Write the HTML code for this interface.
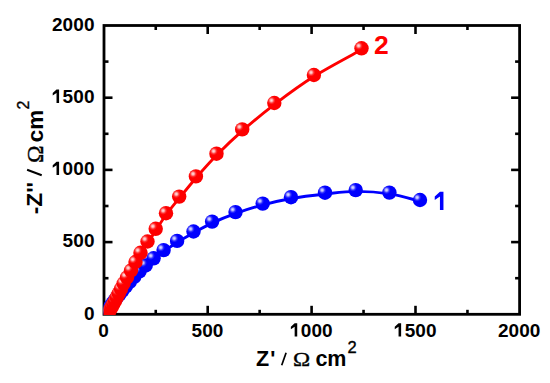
<!DOCTYPE html>
<html><head><meta charset="utf-8"><style>
html,body{margin:0;padding:0;background:#fff;}
svg{display:block;}
text{font-family:"Liberation Sans",sans-serif;}
.se{font-family:"Liberation Serif",serif;}
</style></head><body>
<svg width="550" height="383" viewBox="0 0 550 383">
<defs>
<radialGradient id="gr" cx="0.3" cy="0.32" r="0.6">
<stop offset="0" stop-color="#ffe4e4"/><stop offset="0.14" stop-color="#ffb4b4"/><stop offset="0.32" stop-color="#ff3030"/><stop offset="0.48" stop-color="#ff0000"/><stop offset="1" stop-color="#fc0000"/>
</radialGradient>
<radialGradient id="gb" cx="0.3" cy="0.32" r="0.6">
<stop offset="0" stop-color="#e4e4ff"/><stop offset="0.14" stop-color="#b4b4ff"/><stop offset="0.32" stop-color="#3030ff"/><stop offset="0.48" stop-color="#0000ff"/><stop offset="1" stop-color="#0000fc"/>
</radialGradient>
<clipPath id="cp"><rect x="103.8" y="25.5" width="415.6" height="289.40000000000003"/></clipPath>
</defs>
<rect x="104" y="25.5" width="415.6" height="288.8" fill="none" stroke="#000" stroke-width="2.8"/>
<g stroke="#000" stroke-width="2.6">
<line x1="155.75" y1="314.30" x2="155.75" y2="309.80"/>
<line x1="155.75" y1="25.50" x2="155.75" y2="30.00"/>
<line x1="104.00" y1="278.20" x2="108.50" y2="278.20"/>
<line x1="519.60" y1="278.20" x2="515.10" y2="278.20"/>
<line x1="207.70" y1="314.30" x2="207.70" y2="305.80"/>
<line x1="207.70" y1="25.50" x2="207.70" y2="34.00"/>
<line x1="104.00" y1="242.10" x2="112.50" y2="242.10"/>
<line x1="519.60" y1="242.10" x2="511.10" y2="242.10"/>
<line x1="259.65" y1="314.30" x2="259.65" y2="309.80"/>
<line x1="259.65" y1="25.50" x2="259.65" y2="30.00"/>
<line x1="104.00" y1="206.00" x2="108.50" y2="206.00"/>
<line x1="519.60" y1="206.00" x2="515.10" y2="206.00"/>
<line x1="311.60" y1="314.30" x2="311.60" y2="305.80"/>
<line x1="311.60" y1="25.50" x2="311.60" y2="34.00"/>
<line x1="104.00" y1="169.90" x2="112.50" y2="169.90"/>
<line x1="519.60" y1="169.90" x2="511.10" y2="169.90"/>
<line x1="363.55" y1="314.30" x2="363.55" y2="309.80"/>
<line x1="363.55" y1="25.50" x2="363.55" y2="30.00"/>
<line x1="104.00" y1="133.80" x2="108.50" y2="133.80"/>
<line x1="519.60" y1="133.80" x2="515.10" y2="133.80"/>
<line x1="415.50" y1="314.30" x2="415.50" y2="305.80"/>
<line x1="415.50" y1="25.50" x2="415.50" y2="34.00"/>
<line x1="104.00" y1="97.70" x2="112.50" y2="97.70"/>
<line x1="519.60" y1="97.70" x2="511.10" y2="97.70"/>
<line x1="467.45" y1="314.30" x2="467.45" y2="309.80"/>
<line x1="467.45" y1="25.50" x2="467.45" y2="30.00"/>
<line x1="104.00" y1="61.60" x2="108.50" y2="61.60"/>
<line x1="519.60" y1="61.60" x2="515.10" y2="61.60"/>
</g>
<g clip-path="url(#cp)">
<path d="M420.30,201.30 C415.20,200.07 400.42,195.55 389.70,193.90 C378.98,192.25 366.73,191.38 356.00,191.40 C345.27,191.42 336.08,192.82 325.30,194.00 C314.52,195.18 301.68,196.68 291.30,198.50 C280.92,200.32 272.25,202.42 263.00,204.90 C253.75,207.38 244.23,210.40 235.80,213.40 C227.37,216.40 219.40,219.67 212.40,222.90 C205.40,226.13 199.63,229.58 193.80,232.80 C187.97,236.02 182.38,239.10 177.40,242.20 C172.42,245.30 167.82,248.50 163.90,251.40 C159.98,254.30 156.88,257.03 153.90,259.60 C150.92,262.17 148.35,264.60 146.00,266.80 C143.65,269.00 141.72,270.88 139.80,272.80 C137.88,274.72 136.13,276.55 134.50,278.30 C132.87,280.05 131.40,281.72 130.00,283.30 C128.60,284.88 127.32,286.37 126.10,287.80 C124.88,289.23 123.77,290.60 122.70,291.90 C121.63,293.20 120.63,294.43 119.70,295.60 C118.77,296.77 117.92,297.85 117.10,298.90 C116.28,299.95 115.52,300.95 114.80,301.90 C114.08,302.85 113.42,303.73 112.80,304.60 C112.18,305.47 111.63,306.32 111.10,307.10 C110.57,307.88 110.07,308.60 109.60,309.30 C109.13,310.00 108.68,310.67 108.30,311.30 C107.92,311.93 107.60,312.53 107.30,313.10 C107.00,313.67 106.63,314.43 106.50,314.70" fill="none" stroke="#0000ff" stroke-width="2.9"/>
<circle cx="106.20" cy="313.40" r="7.20" fill="url(#gb)"/>
<circle cx="107.00" cy="311.80" r="7.20" fill="url(#gb)"/>
<circle cx="108.00" cy="310.00" r="7.20" fill="url(#gb)"/>
<circle cx="109.30" cy="308.00" r="7.20" fill="url(#gb)"/>
<circle cx="110.80" cy="305.80" r="7.20" fill="url(#gb)"/>
<circle cx="112.50" cy="303.30" r="7.20" fill="url(#gb)"/>
<circle cx="114.50" cy="300.60" r="7.20" fill="url(#gb)"/>
<circle cx="116.80" cy="297.60" r="7.20" fill="url(#gb)"/>
<circle cx="119.40" cy="294.30" r="7.20" fill="url(#gb)"/>
<circle cx="122.40" cy="290.60" r="7.20" fill="url(#gb)"/>
<circle cx="125.80" cy="286.50" r="7.20" fill="url(#gb)"/>
<circle cx="129.70" cy="282.00" r="7.20" fill="url(#gb)"/>
<circle cx="134.20" cy="277.00" r="7.20" fill="url(#gb)"/>
<circle cx="139.50" cy="271.50" r="7.20" fill="url(#gb)"/>
<circle cx="145.70" cy="265.50" r="7.20" fill="url(#gb)"/>
<circle cx="153.60" cy="258.30" r="7.20" fill="url(#gb)"/>
<circle cx="163.60" cy="250.10" r="7.20" fill="url(#gb)"/>
<circle cx="177.10" cy="240.90" r="7.20" fill="url(#gb)"/>
<circle cx="193.50" cy="231.50" r="7.20" fill="url(#gb)"/>
<circle cx="212.10" cy="221.60" r="7.20" fill="url(#gb)"/>
<circle cx="235.50" cy="212.10" r="7.20" fill="url(#gb)"/>
<circle cx="262.70" cy="203.60" r="7.20" fill="url(#gb)"/>
<circle cx="291.00" cy="197.20" r="7.20" fill="url(#gb)"/>
<circle cx="325.00" cy="192.70" r="7.20" fill="url(#gb)"/>
<circle cx="355.70" cy="190.10" r="7.20" fill="url(#gb)"/>
<circle cx="389.40" cy="192.60" r="7.20" fill="url(#gb)"/>
<circle cx="420.00" cy="200.00" r="7.20" fill="url(#gb)"/>
<path d="M361.80,49.60 C353.87,54.05 328.73,67.18 314.20,76.30 C299.67,85.42 286.55,95.23 274.60,104.30 C262.65,113.37 252.13,122.25 242.50,130.70 C232.87,139.15 224.52,147.17 216.80,155.00 C209.08,162.83 202.42,170.55 196.20,177.70 C189.98,184.85 184.48,191.77 179.50,197.90 C174.52,204.03 170.22,209.13 166.30,214.50 C162.38,219.87 159.08,225.38 156.00,230.10 C152.92,234.82 150.33,238.80 147.80,242.80 C145.27,246.80 142.80,250.68 140.80,254.10 C138.80,257.52 137.38,260.35 135.80,263.30 C134.22,266.25 132.72,269.22 131.30,271.80 C129.88,274.38 128.53,276.63 127.30,278.80 C126.07,280.97 124.90,282.92 123.90,284.80 C122.90,286.68 122.10,288.45 121.30,290.10 C120.50,291.75 119.80,293.27 119.10,294.70 C118.40,296.13 117.73,297.43 117.10,298.70 C116.47,299.97 115.88,301.20 115.30,302.30 C114.72,303.40 114.13,304.35 113.60,305.30 C113.07,306.25 112.57,307.17 112.10,308.00 C111.63,308.83 111.22,309.58 110.80,310.30 C110.38,311.02 109.97,311.68 109.60,312.30 C109.23,312.92 108.90,313.47 108.60,314.00 C108.30,314.53 107.93,315.25 107.80,315.50" fill="none" stroke="#ff0000" stroke-width="2.9"/>
<circle cx="107.50" cy="314.20" r="7.20" fill="url(#gr)"/>
<circle cx="108.30" cy="312.70" r="7.20" fill="url(#gr)"/>
<circle cx="109.30" cy="311.00" r="7.20" fill="url(#gr)"/>
<circle cx="110.50" cy="309.00" r="7.20" fill="url(#gr)"/>
<circle cx="111.80" cy="306.70" r="7.20" fill="url(#gr)"/>
<circle cx="113.30" cy="304.00" r="7.20" fill="url(#gr)"/>
<circle cx="115.00" cy="301.00" r="7.20" fill="url(#gr)"/>
<circle cx="116.80" cy="297.40" r="7.20" fill="url(#gr)"/>
<circle cx="118.80" cy="293.40" r="7.20" fill="url(#gr)"/>
<circle cx="121.00" cy="288.80" r="7.20" fill="url(#gr)"/>
<circle cx="123.60" cy="283.50" r="7.20" fill="url(#gr)"/>
<circle cx="127.00" cy="277.50" r="7.20" fill="url(#gr)"/>
<circle cx="131.00" cy="270.50" r="7.20" fill="url(#gr)"/>
<circle cx="135.50" cy="262.00" r="7.20" fill="url(#gr)"/>
<circle cx="140.50" cy="252.80" r="7.20" fill="url(#gr)"/>
<circle cx="147.50" cy="241.50" r="7.20" fill="url(#gr)"/>
<circle cx="155.70" cy="228.80" r="7.20" fill="url(#gr)"/>
<circle cx="166.00" cy="213.20" r="7.20" fill="url(#gr)"/>
<circle cx="179.20" cy="196.60" r="7.20" fill="url(#gr)"/>
<circle cx="195.90" cy="176.40" r="7.20" fill="url(#gr)"/>
<circle cx="216.50" cy="153.70" r="7.20" fill="url(#gr)"/>
<circle cx="242.20" cy="129.40" r="7.20" fill="url(#gr)"/>
<circle cx="274.30" cy="103.00" r="7.20" fill="url(#gr)"/>
<circle cx="313.90" cy="75.00" r="7.20" fill="url(#gr)"/>
<circle cx="361.50" cy="48.30" r="7.20" fill="url(#gr)"/>
</g>
<g font-size="19" font-weight="bold" fill="#000">
<text x="83.91" y="319.50">0</text>
<text x="62.61" y="247.30">5</text>
<text x="73.26" y="247.30">0</text>
<text x="83.91" y="247.30">0</text>
<path d="M0.375,0 L0.375,-0.70 L0.24,-0.70 L0.04,-0.52 L0.04,-0.385 L0.24,-0.515 L0.24,0 Z" transform="translate(51.96,175.10) scale(19.000)" fill="#000"/>
<text x="62.61" y="175.10">0</text>
<text x="73.26" y="175.10">0</text>
<text x="83.91" y="175.10">0</text>
<path d="M0.375,0 L0.375,-0.70 L0.24,-0.70 L0.04,-0.52 L0.04,-0.385 L0.24,-0.515 L0.24,0 Z" transform="translate(51.96,102.90) scale(19.000)" fill="#000"/>
<text x="62.61" y="102.90">5</text>
<text x="73.26" y="102.90">0</text>
<text x="83.91" y="102.90">0</text>
<text x="51.96" y="30.70">2</text>
<text x="62.61" y="30.70">0</text>
<text x="73.26" y="30.70">0</text>
<text x="83.91" y="30.70">0</text>
<text x="98.27" y="336.60">0</text>
<text x="191.52" y="336.60">5</text>
<text x="202.17" y="336.60">0</text>
<text x="212.82" y="336.60">0</text>
<path d="M0.375,0 L0.375,-0.70 L0.24,-0.70 L0.04,-0.52 L0.04,-0.385 L0.24,-0.515 L0.24,0 Z" transform="translate(290.10,336.60) scale(19.000)" fill="#000"/>
<text x="300.75" y="336.60">0</text>
<text x="311.40" y="336.60">0</text>
<text x="322.05" y="336.60">0</text>
<path d="M0.375,0 L0.375,-0.70 L0.24,-0.70 L0.04,-0.52 L0.04,-0.385 L0.24,-0.515 L0.24,0 Z" transform="translate(394.00,336.60) scale(19.000)" fill="#000"/>
<text x="404.65" y="336.60">5</text>
<text x="415.30" y="336.60">0</text>
<text x="425.95" y="336.60">0</text>
<text x="497.90" y="336.60">2</text>
<text x="508.55" y="336.60">0</text>
<text x="519.20" y="336.60">0</text>
<text x="529.85" y="336.60">0</text>
</g>
<text x="374" y="54" font-size="26.5" font-weight="bold" fill="#ff0000">2</text>
<path d="M0.375,0 L0.375,-0.70 L0.24,-0.70 L0.04,-0.52 L0.04,-0.385 L0.24,-0.515 L0.24,0 Z" transform="translate(433.70,209.90) scale(26.000)" fill="#0000ff"/>
<g fill="#000" font-size="21.5">
<text x="256" y="365.6" font-weight="bold">Z</text>
<text x="270.3" y="365.6" font-weight="bold">'</text>
<line x1="281.7" y1="365.3" x2="286.1" y2="352.7" stroke="#000" stroke-width="1.7"/>
<text class="se" transform="translate(293.1,366.1) scale(1.05,0.88)" font-size="22" stroke="#000" stroke-width="0.4">&#937;</text>
<text x="315.4" y="365.6" font-weight="bold">cm</text>
<text x="347.5" y="352.9" font-size="16.5" stroke="#000" stroke-width="0.35">2</text>
</g>
<g fill="#000" font-size="22.5">
<text transform="translate(41.8,214.2) rotate(-90)" font-weight="bold" font-size="22.7">-Z''</text>
<line x1="27.1" y1="169.8" x2="41.7" y2="175.3" stroke="#000" stroke-width="2"/>
<text class="se" transform="translate(42.6,162.9) rotate(-90) scale(1.05,1)" font-size="22.5" stroke="#000" stroke-width="0.4">&#937;</text>
<text transform="translate(42.5,142.2) rotate(-90)" font-weight="bold">cm</text>
<text transform="translate(29,109.5) rotate(-90)" font-size="16" stroke="#000" stroke-width="0.35">2</text>
</g>
</svg>
</body></html>
